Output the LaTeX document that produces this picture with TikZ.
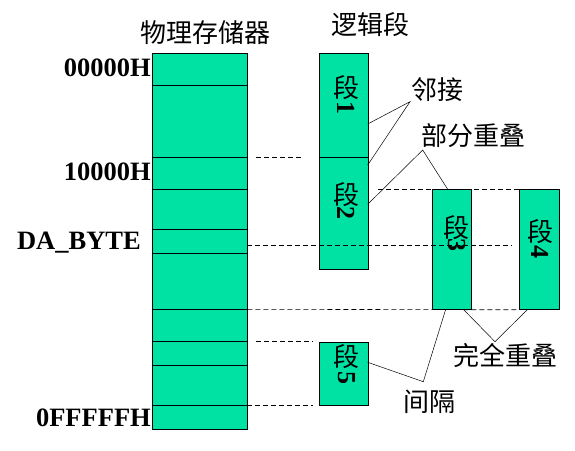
\documentclass[tikz,border=0pt]{standalone}
\usepackage{fontspec}
\setmainfont{Liberation Serif}
\newfontfamily\cjk{Noto Sans CJK SC}
\usetikzlibrary{positioning}
\definecolor{segfill}{RGB}{0,226,164}
\tikzset{
  seg/.style      = {draw, line width=0.8pt, fill=segfill, inner sep=0pt, anchor=north west},
  memrow/.style   = {line width=0.8pt},
  guide/.style    = {dash pattern=on 5pt off 3pt, line width=0.6pt},
  link/.style     = {line width=0.5pt},
  addr/.style     = {font=\bfseries\fontsize{26.5}{26.5}\selectfont, anchor=east, inner sep=0pt},
  cjklabel/.style = {font=\cjk\fontsize{26}{26}\selectfont, inner sep=0pt},
  segnum/.style   = {font=\bfseries\fontsize{26}{26}\selectfont, rotate=-90, inner sep=0pt},
}
\begin{document}
\begin{tikzpicture}[x=1pt,y=-1pt]
  \useasboundingbox (0,0) rectangle (575,450);

  % ---- physical memory ---------------------------------------------------
  \node[seg, minimum width=95.6pt, minimum height=376pt] (mem) at (151.7,53.3) {};
  \foreach \y in {85.3,157.3,189.3,229.3,253.3,309.3,341.3,365.3,405.3}
    \draw[memrow] (151.7,\y) -- (247.3,\y);
  \node[cjklabel] (memlbl) at (205,33) {物理存储器};
  \node[addr] (a0) at (151,68)  {00000H};
  \node[addr] (a1) at (151,172) {10000H};
  \node[addr] (a2) at (141,243) {DA\_BYTE};
  \node[addr] (a3) at (151,418) {0FFFFFH};

  % ---- logical segments --------------------------------------------------
  \node[cjklabel] (seglbl) at (370,25) {逻辑段};
  \node[seg, minimum width=48.4pt, minimum height=104pt]   (seg1) at (319.3,53.3)  {};
  \node[seg, minimum width=48.4pt, minimum height=112pt]   (seg2) at (319.3,157.3) {};
  \node[seg, minimum width=39.6pt, minimum height=119.7pt] (seg3) at (431.7,189.3) {};
  \node[seg, minimum width=40pt,   minimum height=119.7pt] (seg4) at (519.3,189.3) {};
  \node[seg, minimum width=48.4pt, minimum height=63.6pt]  (seg5) at (319.3,341.7) {};

  \node[cjklabel] (s1) at (346.5,88)  {段}; \node[segnum] (n1) at (346.5,108) {1};
  \node[cjklabel] (s2) at (346.5,195) {段}; \node[segnum] (n2) at (346.5,213) {2};
  \node[cjklabel] (s3) at (456.5,228) {段}; \node[segnum] (n3) at (456.5,245) {3};
  \node[cjklabel] (s4) at (540.5,232) {段}; \node[segnum] (n4) at (540.5,252) {4};
  \node[cjklabel] (s5) at (346.5,357) {段}; \node[segnum] (n5) at (346.5,378) {5};

  % ---- guide lines -------------------------------------------------------
  \draw[guide] (256,157.3)   -- (303,157.3);
  \draw[guide] (378,189.3)   -- (seg4.north west);
  \draw[guide] (247.3,245.3) -- (512,245.3);
  \draw[guide] (247.3,309.3) -- (seg4.south west);
  \draw[guide] (256,341.3)   -- (313,341.3);
  \draw[guide] (247.3,405.3) -- (313,405.3);

  % ---- relations ---------------------------------------------------------
  \node[cjklabel] (adj)  at (437.5,90)  {邻接};
  \node[cjklabel] (part) at (473,136)   {部分重叠};
  \node[cjklabel] (full) at (505,355)   {完全重叠};
  \node[cjklabel] (gap)  at (429,402)   {间隔};

  \coordinate (adjtip)  at (410,101.7);
  \coordinate (parttip) at (422.7,150);
  \coordinate (fulltip) at (495,341.7);
  \coordinate (gaptip)  at (423.3,381.7);
  \coordinate (e1) at (367.7,124);
  \coordinate (e2) at (367.7,165);
  \coordinate (e3) at (367.7,204.3);
  \coordinate (e4) at (447.7,189.3);
  \coordinate (e5) at (463.3,309.3);
  \coordinate (e6) at (527.7,309.3);
  \coordinate (e7) at (367.7,362.3);
  \coordinate (e8) at (445.7,309.3);

  \draw[link] (e1) -- (adjtip) -- (e2);
  \draw[link] (e3) -- (parttip) -- (e4);
  \draw[link] (e5) -- (fulltip) -- (e6);
  \draw[link] (e7) -- (gaptip) -- (e8);
\end{tikzpicture}
\end{document}
